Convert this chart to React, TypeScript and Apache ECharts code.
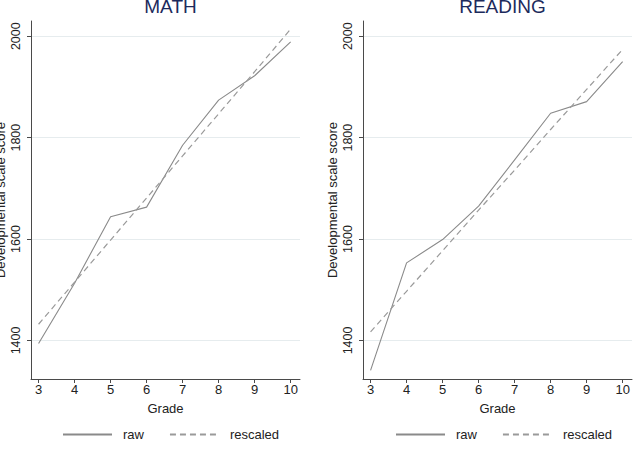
import React, { useEffect, useRef } from "react";
import * as echarts from "echarts";

const grades = [3, 4, 5, 6, 7, 8, 9, 10];
const mathRaw = [1394, 1513, 1644, 1663, 1785, 1874, 1922, 1989];
const mathRescaled = [1432, 1515, 1598, 1681, 1764, 1847, 1930, 2014];
const readingRaw = [1341, 1553, 1599, 1665, 1756, 1848, 1871, 1950];
const readingRescaled = [1417, 1497, 1577, 1657, 1736, 1816, 1895, 1974];
const yTicks = [1400, 1600, 1800, 2000];
const panelTitles = ["MATH", "READING"];
const seriesNames = ["raw", "rescaled"];

const FONT = "'Liberation Sans', Arial, Helvetica, sans-serif";

export default function App() {
  const ref = useRef<HTMLDivElement>(null);
  useEffect(() => {
    if (!ref.current) return;
    const chart = echarts.init(ref.current, undefined, { renderer: "svg" });
    const grids = [
      { left: 31, width: 269, top: 21, height: 358, outerBoundsMode: "none", containLabel: false },
      { left: 363, width: 269, top: 21, height: 358, outerBoundsMode: "none", containLabel: false },
    ];
    const pair = (ys: number[]) => grades.map((g, i) => [g, ys[i]]);
    const axisLineStyle = { color: "#4a4a4a", width: 1 };
    const xAxes = grids.map((_, i) => ({
      type: "value",
      gridIndex: i,
      min: 2.79,
      max: 10.26,
      name: "Grade",
      nameLocation: "middle",
      nameGap: 23,
      nameTextStyle: { fontSize: 13, color: "#222", fontFamily: FONT },
      axisLine: { show: true, lineStyle: axisLineStyle },
      axisTick: { show: true, length: 4, lineStyle: axisLineStyle, customValues: grades },
      axisLabel: { customValues: grades, fontSize: 13, color: "#222", margin: 4, fontFamily: FONT },
      splitLine: { show: false },
    }));
    const yAxes = grids.map((_, i) => ({
      type: "value",
      gridIndex: i,
      min: 1324,
      max: 2030,
      name: "Developmental scale score",
      nameLocation: "middle",
      nameGap: 24,
      nameTextStyle: { fontSize: 13, color: "#222", fontFamily: FONT },
      axisLine: { show: true, lineStyle: axisLineStyle },
      axisTick: { show: true, length: 4, lineStyle: axisLineStyle, customValues: yTicks },
      axisLabel: {
        customValues: yTicks,
        formatter: (v: number) => String(v),
        rotate: 90,
        fontSize: 12.5,
        color: "#222",
        margin: 9,
        fontFamily: FONT,
      },
      splitLine: { show: true, lineStyle: { color: "#e6ecee", width: 1 } },
    }));
    const mk = (name: string, data: number[][], idx: number, dashed: boolean) => ({
      type: "line",
      name,
      xAxisIndex: idx,
      yAxisIndex: idx,
      data,
      symbol: "none",
      showSymbol: false,
      lineStyle: dashed
        ? { color: "#9a9a9a", width: 1.2, type: [6, 4] }
        : { color: "#8a8a8a", width: 1.1 },
      itemStyle: { color: dashed ? "#9a9a9a" : "#8a8a8a" },
    });
    const legendCommon = {
      top: 423,
      itemWidth: 49,
      itemHeight: 14,
      itemGap: 25,
      data: seriesNames,
      itemStyle: { opacity: 0 },
      textStyle: { fontSize: 13, color: "#222", fontFamily: FONT, padding: [0, 0, 0, 6] },
      selectedMode: false,
    };
    chart.setOption({
      animation: false,
      backgroundColor: "#ffffff",
      title: panelTitles.map((t, i) => ({
        text: t,
        left: grids[i].left + grids[i].width / 2,
        textAlign: "center",
        top: -8,
        textStyle: { fontSize: 19, fontWeight: "normal", color: "#1c2a5c", fontFamily: FONT },
      })),
      grid: grids,
      xAxis: xAxes,
      yAxis: yAxes,
      legend: [
        { ...legendCommon, left: 57 },
        { ...legendCommon, left: 390 },
      ],
      series: [
        mk("raw", pair(mathRaw), 0, false),
        mk("rescaled", pair(mathRescaled), 0, true),
        mk("raw", pair(readingRaw), 1, false),
        mk("rescaled", pair(readingRescaled), 1, true),
      ],
    });
    return () => chart.dispose();
  }, []);
  return (
    <div
      ref={ref}
      style={{ position: "fixed", left: 0, top: 0, width: 635, height: 450, background: "#fff" }}
    />
  );
}
